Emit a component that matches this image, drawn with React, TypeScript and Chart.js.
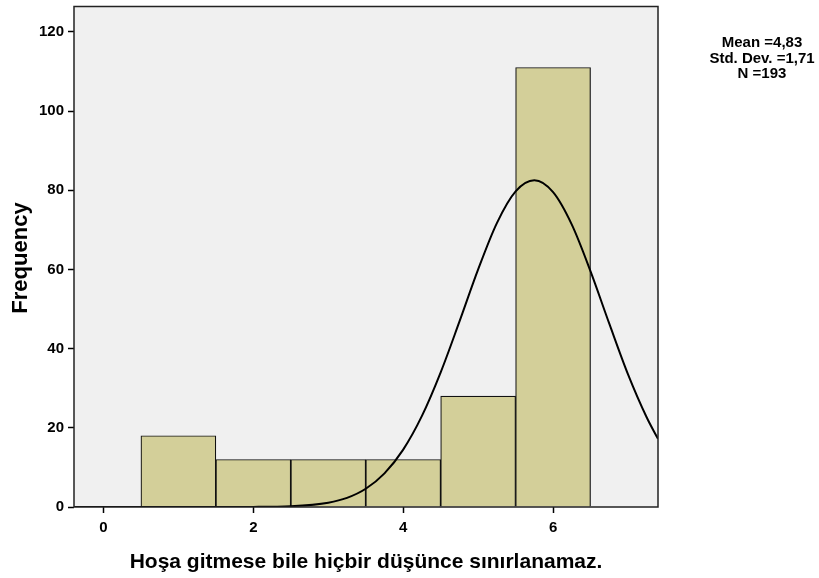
import React, { useEffect, useRef } from "react";
import { Chart, registerables } from "chart.js";

Chart.register(...registerables);

const binCenters = [1, 2, 3, 4, 5, 6];
const frequencies = [18, 12, 12, 12, 28, 111];
const curveX = [-0.4, 1.0, 2.0, 2.5, 3.0, 3.25, 3.5, 3.75, 4.0, 4.25, 4.5, 4.75, 5.0, 5.25, 5.5, 5.75, 6.0, 6.25, 6.5, 6.75, 7.0, 7.25, 7.4];
const curveY = [0, 0, 0.03, 0.2, 1.1, 2.3, 4.6, 8.5, 14.5, 23.0, 34.0, 46.8, 60.0, 71.7, 79.7, 82.5, 79.5, 71.3, 59.5, 46.3, 33.5, 22.6, 17.2];
const yTicks = [0, 20, 40, 60, 80, 100, 120];
const xTicks = [0, 2, 4, 6];
const xTitle = "Hoşa gitmese bile hiçbir düşünce sınırlanamaz.";
const yTitle = "Frequency";
const statLines = ["Mean =4,83", "Std. Dev. =1,71", "N =193"];

const FONT = "'Liberation Sans', Arial, sans-serif";

export default function App() {
  const ref = useRef<HTMLCanvasElement>(null);
  useEffect(() => {
    document.body.style.margin = "0";
    const canvas = ref.current!;
    const decor = {
      id: "decor",
      beforeDraw(chart: any) {
        const { ctx, chartArea: a } = chart;
        ctx.save();
        ctx.fillStyle = "#ffffff";
        ctx.fillRect(0, 0, chart.width, chart.height);
        ctx.fillStyle = "#f0f0f0";
        ctx.fillRect(a.left, a.top, a.right - a.left, a.bottom - a.top);
        ctx.restore();
      },
      afterDraw(chart: any) {
        const { ctx, chartArea: a } = chart;
        ctx.save();
        ctx.strokeStyle = "#222";
        ctx.lineWidth = 1.5;
        ctx.strokeRect(a.left, a.top, a.right - a.left, a.bottom - a.top);
        ctx.fillStyle = "#000";
        ctx.font = `bold 21px ${FONT}`;
        ctx.textAlign = "center";
        ctx.textBaseline = "middle";
        ctx.fillText(xTitle, 366, 562);
        ctx.save();
        ctx.translate(21, 258);
        ctx.rotate(-Math.PI / 2);
        ctx.font = `bold 22px ${FONT}`;
        ctx.fillText(yTitle, 0, 0);
        ctx.restore();
        ctx.font = `bold 15px ${FONT}`;
        const ys = [43, 59, 74];
        statLines.forEach((t, i) => ctx.fillText(t, 762, ys[i]));
        ctx.restore();
      },
    };
    const chart = new Chart(canvas, {
      type: "bar",
      data: {
        datasets: [
          {
            type: "line",
            data: curveX.map((x, i) => ({ x, y: curveY[i] })),
            borderColor: "#000",
            borderWidth: 2,
            pointRadius: 0,
            cubicInterpolationMode: "monotone",
            fill: false,
            clip: 0,
          } as any,
          {
            type: "bar",
            data: binCenters.map((x, i) => ({ x, y: frequencies[i] })),
            backgroundColor: "#d3cf99",
            borderColor: "#111",
            borderWidth: 1.2,
            barPercentage: 1,
            categoryPercentage: 1,
          } as any,
        ],
      },
      options: {
        responsive: false,
        animation: false,
        events: [],
        layout: { padding: { top: 6.5, right: 161, left: 0, bottom: 0 } },
        plugins: { legend: { display: false }, tooltip: { enabled: false } },
        scales: {
          x: {
            type: "linear",
            offset: false,
            min: -0.393,
            max: 7.4,
            afterFit: (s: any) => { s.height = 71; s.paddingLeft = 0; s.paddingRight = 0; },
            afterBuildTicks: (s: any) => { s.ticks = xTicks.map((v) => ({ value: v })); },
            ticks: { color: "#000", font: { family: FONT, size: 15, weight: "bold" }, padding: 6, maxRotation: 0 },
            grid: { drawOnChartArea: false, offset: false, tickLength: 6, color: "#000", tickWidth: 1.5 },
            border: { display: false },
          },
          y: {
            type: "linear",
            min: 0,
            max: 126.4,
            afterFit: (s: any) => { s.width = 74; s.paddingTop = 0; s.paddingBottom = 0; },
            afterBuildTicks: (s: any) => { s.ticks = yTicks.map((v) => ({ value: v })); },
            ticks: { color: "#000", font: { family: FONT, size: 15, weight: "bold" }, padding: 4 },
            grid: { drawOnChartArea: false, tickLength: 6, color: "#000", tickWidth: 1.5 },
            border: { display: false },
          },
        },
      } as any,
      plugins: [decor],
    });
    return () => chart.destroy();
  }, []);
  return (
    <div style={{ width: 819, height: 578 }}>
      <canvas ref={ref} width={819} height={578} style={{ display: "block" }} />
    </div>
  );
}
